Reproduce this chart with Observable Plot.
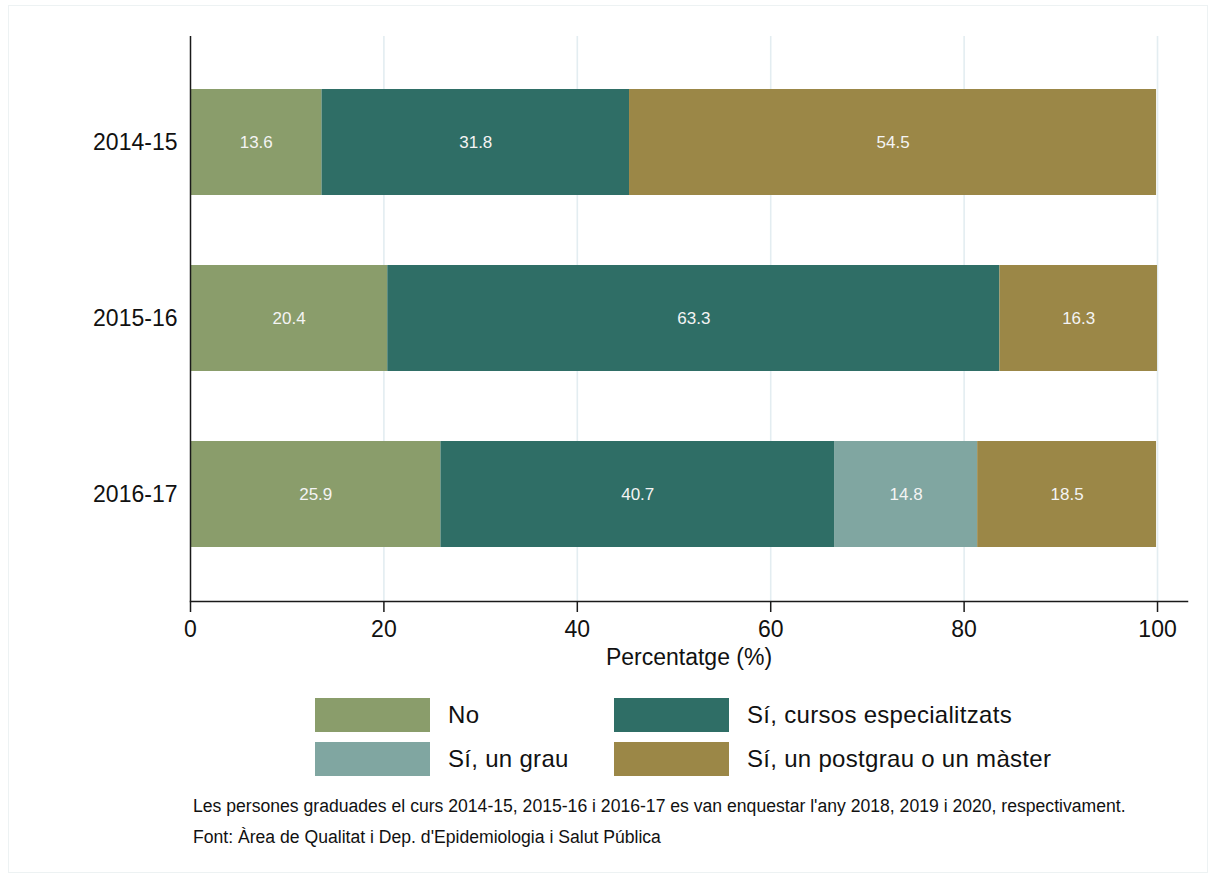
<!DOCTYPE html>
<html>
<head>
<meta charset="utf-8">
<script src="https://cdn.jsdelivr.net/npm/d3@7"></script>
<script src="https://cdn.jsdelivr.net/npm/@observablehq/plot@0.6"></script>
<style>
  html, body { margin: 0; padding: 0; background: #fff; }
  body { width: 1216px; height: 878px; position: relative; overflow: hidden;
         font-family: "Liberation Sans", Arial, Helvetica, sans-serif; }
  #frame { position: absolute; left: 8px; top: 5px; width: 1200px; height: 868px;
           border: 1px solid #edf2f3; box-sizing: border-box; }
  #chart { position: absolute; left: 0; top: 0; }
  #legend { position: absolute; left: 315px; top: 698px; }
  .item { position: absolute; display: flex; align-items: center; height: 34px;
          font-size: 24px; letter-spacing: 0.3px; color: #111; white-space: nowrap; }
  .sw { width: 115px; height: 34px; margin-right: 18px; }
  #caption { position: absolute; left: 193px; top: 791px; font-size: 17.6px;
             line-height: 31px; color: #111; white-space: nowrap; }
</style>
</head>
<body>
<div id="frame"></div>
<div id="chart"></div>
<div id="legend"></div>
<div id="caption"></div>
<script>
const years = ["2014-15", "2015-16", "2016-17"];
const series = ["No", "Sí, cursos especialitzats", "Sí, un grau", "Sí, un postgrau o un màster"];
const colors = ["#8a9d6b", "#2f6e66", "#80a6a1", "#9b8747"];
const valNo       = [13.6, 20.4, 25.9];
const valCursos   = [31.8, 63.3, 40.7];
const valGrau     = [0, 0, 14.8];
const valPostgrau = [54.5, 16.3, 18.5];
const xTicks = [0, 20, 40, 60, 80, 100];
const gridTicks = [20, 40, 60, 80, 100];
const xLabel = "Percentatge (%)";
const captionLines = [
  "Les persones graduades el curs 2014-15, 2015-16 i 2016-17 es van enquestar l'any 2018, 2019 i 2020, respectivament.",
  "Font: Àrea de Qualitat i Dep. d'Epidemiologia i Salut Pública"
];

const allVals = [valNo, valCursos, valGrau, valPostgrau];
const data = [];
years.forEach((y, i) => {
  series.forEach((s, j) => {
    const v = allVals[j][i];
    if (v > 0) data.push({year: y, series: s, value: v});
  });
});

const chart = Plot.plot({
  width: 1216,
  height: 680,
  marginLeft: 190,
  marginRight: 29,
  marginTop: 36,
  marginBottom: 79,
  style: {fontFamily: "'Liberation Sans', Arial, Helvetica, sans-serif", color: "#111", background: "transparent"},
  x: {domain: [0, 103.1]},
  y: {domain: years, paddingInner: 0.395, paddingOuter: 0.295, align: 0.5},
  color: {domain: series, range: colors},
  marks: [
    Plot.ruleX(gridTicks, {stroke: "#e3edf1", strokeWidth: 1.6}),
    Plot.barX(data, Plot.stackX({x: "value", y: "year", fill: "series", z: "series", order: series})),
    Plot.text(data, Plot.stackX({x: "value", y: "year", z: "series", order: series,
                                 text: d => d.value.toFixed(1), fill: "#f4f4f4", fontSize: 17})),
    Plot.ruleX([0], {stroke: "#1a1a1a", strokeWidth: 1.5}),
    Plot.frame({anchor: "bottom", stroke: "#1a1a1a", strokeWidth: 1.5}),
    Plot.axisX({ticks: xTicks, tickSize: 11, tickPadding: 8, fontSize: 23,
                stroke: "#1a1a1a", strokeWidth: 1.5,
                label: xLabel, labelAnchor: "center", labelArrow: "none", labelOffset: 63}),
    Plot.axisY({tickSize: 0, tickPadding: 13, fontSize: 23, label: null})
  ]
});
document.getElementById("chart").appendChild(chart);

// legend
const legend = document.getElementById("legend");
const positions = [[0, 0], [299, 0], [0, 44], [299, 44]];
series.forEach((s, k) => {
  const el = document.createElement("div");
  el.className = "item";
  el.style.left = positions[k][0] + "px";
  el.style.top = positions[k][1] + "px";
  const sw = document.createElement("div");
  sw.className = "sw";
  sw.style.background = colors[k];
  const lab = document.createElement("span");
  lab.textContent = s;
  el.appendChild(sw);
  el.appendChild(lab);
  legend.appendChild(el);
});

// caption
const cap = document.getElementById("caption");
captionLines.forEach(l => {
  const d = document.createElement("div");
  d.textContent = l;
  cap.appendChild(d);
});
</script>
</body>
</html>
